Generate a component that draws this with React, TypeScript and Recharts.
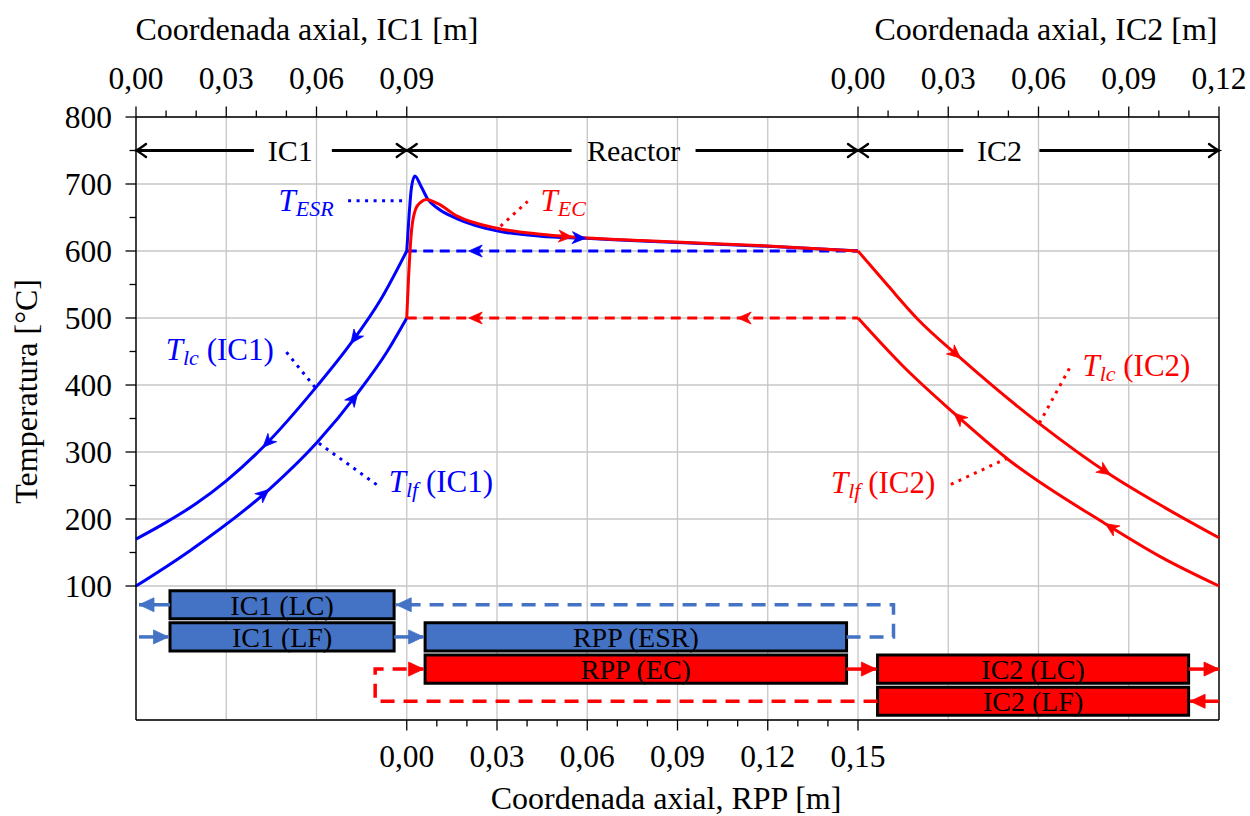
import React from "react";
import {
  ComposedChart,
  Line,
  XAxis,
  YAxis,
  CartesianGrid,
  ReferenceArea,
  ReferenceDot,
  ReferenceLine,
} from "recharts";

// ---- layout ----
const W = 1250;
const H = 816;
const MARGIN = { top: 17, right: 31, bottom: 16, left: 16 };
const Y_AXIS_W = 120;
const TOP_AXIS_H = 100;
const BOTTOM_AXIS_H = 80;
const X_MIN = -0.09;
const X_MAX = 0.27;
const Y_MIN = -100;
const Y_MAX = 800;
const PLOT_W = W - MARGIN.left - MARGIN.right - Y_AXIS_W;
const PLOT_H = H - MARGIN.top - MARGIN.bottom - TOP_AXIS_H - BOTTOM_AXIS_H;
// px per data unit, used only to orient arrowheads along a series
const SX = PLOT_W / (X_MAX - X_MIN);
const SY = PLOT_H / (Y_MAX - Y_MIN);

const FONT = "'Liberation Serif', 'Times New Roman', serif";
const BLUE = "#0000ff";
const RED = "#ff0000";
const BOX_BLUE = "#4472c4";
const GRID = "#c6c6c6";

// ---- ticks ----
const rppMajorTicks = [0, 0.03, 0.06, 0.09, 0.12, 0.15];
const rppTickLabels = ["0,00", "0,03", "0,06", "0,09", "0,12", "0,15"];
const rppMinorTicks = [0.01, 0.02, 0.04, 0.05, 0.07, 0.08, 0.1, 0.11, 0.13, 0.14];

const ic1MajorTicks = [-0.09, -0.06, -0.03, 0];
const ic1TickLabels = ["0,00", "0,03", "0,06", "0,09"];
const ic1MinorTicks = [-0.08, -0.07, -0.05, -0.04, -0.02, -0.01];

const ic2MajorTicks = [0.15, 0.18, 0.21, 0.24, 0.27];
const ic2TickLabels = ["0,00", "0,03", "0,06", "0,09", "0,12"];
const ic2MinorTicks = [0.16, 0.17, 0.19, 0.2, 0.22, 0.23, 0.25, 0.26];

const tempMajorTicks = [100, 200, 300, 400, 500, 600, 700, 800];
const tempTickLabels = ["100", "200", "300", "400", "500", "600", "700", "800"];
const tempMinorTicks = [150, 250, 350, 450, 550, 650, 750];

const gridX = [-0.06, -0.03, 0, 0.03, 0.06, 0.09, 0.12, 0.15, 0.18, 0.21, 0.24];
const gridY = [100, 200, 300, 400, 500, 600, 700];

// ---- temperature profiles (x in m of the RPP frame, y in °C) ----
// a: flow arrow on that point, +1 toward the next point, -1 toward the previous one
type Pt = { x: number; y: number; a?: number };

const tlcIc1: Pt[] = [
  { x: -0.09, y: 170 },
  { x: -0.08, y: 195 },
  { x: -0.07, y: 223 },
  { x: -0.06, y: 257 },
  { x: -0.0478, y: 307, a: -1 },
  { x: -0.0297, y: 399 },
  { x: -0.0186, y: 462, a: -1 },
  { x: -0.0086, y: 528 },
  { x: 0, y: 600 },
];
const tlfIc1: Pt[] = [
  { x: -0.09, y: 100 },
  { x: -0.0723, y: 152 },
  { x: -0.0458, y: 244, a: 1 },
  { x: -0.0297, y: 315 },
  { x: -0.0163, y: 388, a: 1 },
  { x: -0.0065, y: 450 },
  { x: 0, y: 500 },
];
const tEsr: Pt[] = [
  { x: 0, y: 600 },
  { x: 0.0008, y: 655 },
  { x: 0.0016, y: 696 },
  { x: 0.0027, y: 712 },
  { x: 0.0047, y: 697 },
  { x: 0.0069, y: 678 },
  { x: 0.0105, y: 663 },
  { x: 0.0168, y: 648 },
  { x: 0.03, y: 630 },
  { x: 0.0445, y: 622 },
  { x: 0.0595, y: 619, a: 1 },
  { x: 0.078, y: 615 },
  { x: 0.12, y: 607 },
  { x: 0.15, y: 600 },
];
const tEc: Pt[] = [
  { x: 0, y: 500 },
  { x: 0.0006, y: 560 },
  { x: 0.0011, y: 601 },
  { x: 0.0016, y: 631 },
  { x: 0.003, y: 663 },
  { x: 0.0047, y: 673 },
  { x: 0.0065, y: 677 },
  { x: 0.0102, y: 671 },
  { x: 0.0168, y: 652 },
  { x: 0.03, y: 634 },
  { x: 0.0445, y: 625 },
  { x: 0.055, y: 621, a: 1 },
  { x: 0.078, y: 615.5 },
  { x: 0.12, y: 607.5 },
  { x: 0.15, y: 600 },
];
const esrReturn: Pt[] = [
  { x: 0, y: 600 },
  { x: 0.0206, y: 600, a: -1 },
  { x: 0.15, y: 600 },
];
const ecReturn: Pt[] = [
  { x: 0, y: 500 },
  { x: 0.0206, y: 500, a: -1 },
  { x: 0.11, y: 500, a: -1 },
  { x: 0.15, y: 500 },
];
const tlcIc2: Pt[] = [
  { x: 0.15, y: 600 },
  { x: 0.16, y: 548 },
  { x: 0.1697, y: 499 },
  { x: 0.1841, y: 440, a: 1 },
  { x: 0.2104, y: 342 },
  { x: 0.2339, y: 266, a: 1 },
  { x: 0.252, y: 217 },
  { x: 0.27, y: 172 },
];
const tlfIc2: Pt[] = [
  { x: 0.15, y: 500 },
  { x: 0.165, y: 428 },
  { x: 0.1819, y: 358, a: -1 },
  { x: 0.1996, y: 290 },
  { x: 0.2322, y: 193, a: -1 },
  { x: 0.25, y: 145 },
  { x: 0.27, y: 100 },
];

// ---- dotted leaders from curve labels ----
const leaders: { id: string; pts: Pt[]; loop: "c" | "h" }[] = [
  { id: "esr", loop: "c", pts: [{ x: -0.0195, y: 675 }, { x: -0.0003, y: 675 }] },
  { id: "ec", loop: "h", pts: [{ x: 0.0312, y: 637 }, { x: 0.0402, y: 674 }] },
  { id: "lc1", loop: "c", pts: [{ x: -0.04, y: 449 }, { x: -0.0306, y: 397 }] },
  { id: "lf1", loop: "c", pts: [{ x: -0.0292, y: 313 }, { x: -0.0096, y: 250 }] },
  { id: "lc2", loop: "h", pts: [{ x: 0.2103, y: 343 }, { x: 0.2203, y: 425 }] },
  { id: "lf2", loop: "h", pts: [{ x: 0.1997, y: 291 }, { x: 0.1801, y: 250 }] },
];

const curveLabels: {
  id: string;
  x: number;
  y: number;
  sub: string;
  tail: string;
  loop: "c" | "h";
  anchor: "start" | "end";
}[] = [
  { id: "esr", x: -0.0243, y: 675, sub: "ESR", tail: "", loop: "c", anchor: "end" },
  { id: "ec", x: 0.0445, y: 675, sub: "EC", tail: "", loop: "h", anchor: "start" },
  { id: "lc1", x: -0.0442, y: 452, sub: "lc", tail: "(IC1)", loop: "c", anchor: "end" },
  { id: "lf1", x: -0.006, y: 255, sub: "lf", tail: "(IC1)", loop: "c", anchor: "start" },
  { id: "lc2", x: 0.2246, y: 428, sub: "lc", tail: "(IC2)", loop: "h", anchor: "start" },
  { id: "lf2", x: 0.1757, y: 253, sub: "lf", tail: "(IC2)", loop: "h", anchor: "end" },
];

// ---- section span arrows ----
const sectionLevel = 750;
const sections = [
  { name: "IC1", center: -0.0387, from: -0.09, to: 0, gapL: -0.0508, gapR: -0.0249 },
  { name: "Reactor", center: 0.0754, from: 0, to: 0.15, gapL: 0.0548, gapR: 0.096 },
  { name: "IC2", center: 0.197, from: 0.15, to: 0.27, gapL: 0.185, gapR: 0.2103 },
];

// ---- loop block diagram ----
const boxes: { name: string; x1: number; x2: number; y1: number; y2: number; loop: "c" | "h" }[] = [
  { name: "IC1 (LC)", x1: -0.0787, x2: -0.0042, y1: 51, y2: 93, loop: "c" },
  { name: "IC1 (LF)", x1: -0.0787, x2: -0.0042, y1: 3, y2: 45, loop: "c" },
  { name: "RPP (ESR)", x1: 0.0061, x2: 0.1462, y1: 3, y2: 45, loop: "c" },
  { name: "RPP (EC)", x1: 0.0061, x2: 0.1462, y1: -45, y2: -3, loop: "h" },
  { name: "IC2 (LC)", x1: 0.1565, x2: 0.2599, y1: -45, y2: -3, loop: "h" },
  { name: "IC2 (LF)", x1: 0.1565, x2: 0.2599, y1: -93, y2: -51, loop: "h" },
];
const flows: { id: string; pts: Pt[]; loop: "c" | "h"; dashed: boolean }[] = [
  { id: "c-out", loop: "c", dashed: false, pts: [{ x: -0.0787, y: 72 }, { x: -0.089, y: 72, a: 1 }] },
  { id: "c-in", loop: "c", dashed: false, pts: [{ x: -0.089, y: 24 }, { x: -0.0792, y: 24, a: 1 }] },
  { id: "c-rpp", loop: "c", dashed: false, pts: [{ x: -0.0042, y: 24 }, { x: 0.0056, y: 24, a: 1 }] },
  {
    id: "c-ret",
    loop: "c",
    dashed: true,
    pts: [{ x: 0.1462, y: 24 }, { x: 0.1618, y: 24 }, { x: 0.1618, y: 72 }, { x: -0.0035, y: 72, a: 1 }],
  },
  {
    id: "h-ret",
    loop: "h",
    dashed: true,
    pts: [{ x: 0.1565, y: -72 }, { x: -0.0105, y: -72 }, { x: -0.0105, y: -24 }, { x: 0.0056, y: -24, a: 1 }],
  },
  { id: "h-ic2", loop: "h", dashed: false, pts: [{ x: 0.1462, y: -24 }, { x: 0.1561, y: -24, a: 1 }] },
  { id: "h-out", loop: "h", dashed: false, pts: [{ x: 0.2599, y: -24 }, { x: 0.27, y: -24, a: 1 }] },
  { id: "h-in", loop: "h", dashed: false, pts: [{ x: 0.27, y: -72 }, { x: 0.2604, y: -72, a: 1 }] },
];

type ArrowKind = "stealth" | "tri" | "to";

function head(kind: ArrowKind, x: number, y: number, ux: number, uy: number, color: string) {
  const nx = -uy;
  const ny = ux;
  if (kind === "to") {
    const p = (b: number, s: number) => `${x - b * ux + s * nx},${y - b * uy + s * ny}`;
    return (
      <path
        d={`M${p(10, 6.5)} Q${p(3, 1.2)} ${x},${y} Q${p(3, -1.2)} ${p(10, -6.5)}`}
        fill="none"
        stroke={color}
        strokeWidth={2.4}
        strokeLinecap="round"
      />
    );
  }
  const L = kind === "tri" ? 15 : 13.5;
  const hw = kind === "tri" ? 7 : 6;
  const notch = kind === "tri" ? 0 : 4;
  const bx = x - L * ux;
  const by = y - L * uy;
  const d =
    `M${x},${y} L${bx + hw * nx},${by + hw * ny} ` +
    `L${x - (L - notch) * ux},${y - (L - notch) * uy} ` +
    `L${bx - hw * nx},${by - hw * ny} Z`;
  return <path d={d} fill={color} stroke={color} strokeWidth={0.8} strokeLinejoin="round" />;
}

// dot renderer that draws an arrowhead on flagged points, oriented along the series
function arrowDot(pts: Pt[], kind: ArrowKind, color: string) {
  return (props: any) => {
    const { cx, cy, index } = props;
    const p = pts[index];
    if (!p || !p.a || typeof cx !== "number" || typeof cy !== "number") {
      return <g key={`n${index}`} />;
    }
    const prev = pts[index - 1] ?? p;
    const next = pts[index + 1] ?? p;
    let dx = (next.x - prev.x) * SX * p.a;
    let dy = -(next.y - prev.y) * SY * p.a;
    if (index === 0) {
      dx = -dx;
      dy = -dy;
    }
    const len = Math.hypot(dx, dy) || 1;
    return <g key={`a${index}`}>{head(kind, cx, cy, dx / len, dy / len, color)}</g>;
  };
}

function axisTick(majors: number[], labels: string[], side: "top" | "bottom" | "left") {
  return (props: any) => {
    const { x, y, payload } = props;
    const v = payload.value as number;
    const i = majors.findIndex((m) => Math.abs(m - v) < 1e-9);
    const len = i >= 0 ? 10.5 : 6.5;
    const txt = { fontFamily: FONT, fontSize: 31.5, fill: "#000" };
    if (side === "left") {
      return (
        <g>
          <line x1={x} y1={y} x2={x - len} y2={y} stroke="#000" strokeWidth={1.3} />
          {i >= 0 && (
            <text x={x - 24} y={y} textAnchor="end" dominantBaseline="central" {...txt}>
              {labels[i]}
            </text>
          )}
        </g>
      );
    }
    const s = side === "top" ? -1 : 1;
    return (
      <g>
        <line x1={x} y1={y} x2={x} y2={y + s * len} stroke="#000" strokeWidth={1.3} />
        {i >= 0 && (
          <text x={x} y={side === "top" ? y - 28 : y + 47} textAnchor="middle" {...txt}>
            {labels[i]}
          </text>
        )}
      </g>
    );
  };
}

const loopColor = (loop: "c" | "h") => (loop === "c" ? BLUE : RED);
const boxColor = (loop: "c" | "h") => (loop === "c" ? BOX_BLUE : RED);

const topTicks = [...ic1MajorTicks, ...ic1MinorTicks, ...ic2MajorTicks, ...ic2MinorTicks].sort((a, b) => a - b);
const bottomTicks = [...rppMajorTicks, ...rppMinorTicks].sort((a, b) => a - b);
const leftTicks = [...tempMajorTicks, ...tempMinorTicks].sort((a, b) => a - b);

const titleStyle = { fontFamily: FONT, fontSize: 32, fill: "#000" };

export default function App() {
  const plotTop = MARGIN.top + TOP_AXIS_H;
  const profiles: { id: string; pts: Pt[]; color: string; dashed?: boolean }[] = [
    { id: "tlfIc1", pts: tlfIc1, color: BLUE },
    { id: "tlcIc1", pts: tlcIc1, color: BLUE },
    { id: "tEsr", pts: tEsr, color: BLUE },
    { id: "esrReturn", pts: esrReturn, color: BLUE, dashed: true },
    { id: "ecReturn", pts: ecReturn, color: RED, dashed: true },
    { id: "tEc", pts: tEc, color: RED },
    { id: "tlcIc2", pts: tlcIc2, color: RED },
    { id: "tlfIc2", pts: tlfIc2, color: RED },
  ];

  return (
    <div style={{ position: "absolute", left: 0, top: 0, width: W, height: H, background: "#fff" }}>
      <ComposedChart width={W} height={H} margin={MARGIN}>
        <XAxis
          xAxisId="b"
          type="number"
          dataKey="x"
          domain={[X_MIN, X_MAX]}
          ticks={bottomTicks}
          interval={0}
          height={BOTTOM_AXIS_H}
          tickSize={0}
          tickMargin={0}
          tick={axisTick(rppMajorTicks, rppTickLabels, "bottom")}
          axisLine={{ stroke: "#000", strokeWidth: 1.4 }}
          tickLine={false}
          label={{
            content: () => (
              <text x={666} y={H - 7} textAnchor="middle" {...titleStyle}>
                Coordenada axial, RPP [m]
              </text>
            ),
          }}
        />
        <XAxis
          xAxisId="t"
          orientation="top"
          type="number"
          dataKey="x"
          domain={[X_MIN, X_MAX]}
          allowDataOverflow
          ticks={topTicks}
          interval={0}
          height={TOP_AXIS_H}
          tickSize={0}
          tickMargin={0}
          tick={axisTick([...ic1MajorTicks, ...ic2MajorTicks], [...ic1TickLabels, ...ic2TickLabels], "top")}
          axisLine={{ stroke: "#000", strokeWidth: 1.4 }}
          tickLine={false}
          label={{
            content: () => (
              <g>
                <text x={307} y={MARGIN.top + 22.5} textAnchor="middle" {...titleStyle}>
                  Coordenada axial, IC1 [m]
                </text>
                <text x={1046} y={MARGIN.top + 22.5} textAnchor="middle" {...titleStyle}>
                  Coordenada axial, IC2 [m]
                </text>
              </g>
            ),
          }}
        />
        <YAxis
          yAxisId="l"
          type="number"
          domain={[Y_MIN, Y_MAX]}
          ticks={leftTicks}
          interval={0}
          width={Y_AXIS_W}
          tickSize={0}
          tickMargin={0}
          tick={axisTick(tempMajorTicks, tempTickLabels, "left")}
          axisLine={{ stroke: "#000", strokeWidth: 1.4 }}
          tickLine={false}
          label={{
            content: () => {
              const cy = plotTop + PLOT_H * 0.455;
              return (
                <text x={37} y={cy} transform={`rotate(-90 37 ${cy})`} textAnchor="middle" {...titleStyle}>
                  Temperatura [°C]
                </text>
              );
            },
          }}
        />
        <XAxis
          xAxisId="g"
          type="number"
          dataKey="x"
          domain={[X_MIN, X_MAX]}
          allowDataOverflow
          ticks={gridX}
          interval={0}
          height={0}
          hide
        />
        <YAxis
          yAxisId="g"
          type="number"
          domain={[Y_MIN, Y_MAX]}
          allowDataOverflow
          ticks={gridY}
          interval={0}
          width={0}
          hide
        />
        <CartesianGrid xAxisId="g" yAxisId="g" stroke={GRID} strokeWidth={1.3} />
        <ReferenceLine xAxisId="b" yAxisId="l" x={X_MAX} stroke="#000" strokeWidth={1.4} />

        {boxes.map((b) => (
          <ReferenceArea
            key={b.name}
            xAxisId="b"
            yAxisId="l"
            x1={b.x1}
            x2={b.x2}
            y1={b.y1}
            y2={b.y2}
            fill={boxColor(b.loop)}
            fillOpacity={1}
            stroke="#000"
            strokeWidth={3}
            label={{ value: b.name, position: "center", fill: "#000", fontSize: 28, fontFamily: FONT }}
          />
        ))}

        {flows.map((f) => (
          <Line
            key={f.id}
            xAxisId="b"
            yAxisId="l"
            data={f.pts}
            dataKey="y"
            type="linear"
            stroke={boxColor(f.loop)}
            strokeWidth={3.5}
            strokeDasharray={f.dashed ? "14 9" : undefined}
            dot={arrowDot(f.pts, "tri", boxColor(f.loop))}
            activeDot={false}
            isAnimationActive={false}
            legendType="none"
          />
        ))}

        {leaders.map((l) => (
          <Line
            key={l.id}
            xAxisId="b"
            yAxisId="l"
            data={l.pts}
            dataKey="y"
            type="linear"
            stroke={loopColor(l.loop)}
            strokeWidth={3}
            strokeDasharray="3 5.5"
            dot={false}
            activeDot={false}
            isAnimationActive={false}
            legendType="none"
          />
        ))}

        {profiles.map((p) => (
          <Line
            key={p.id}
            xAxisId="b"
            yAxisId="l"
            data={p.pts}
            dataKey="y"
            type={p.dashed ? "linear" : "monotone"}
            stroke={p.color}
            strokeWidth={3}
            strokeDasharray={p.dashed ? "10 6.5" : undefined}
            dot={arrowDot(p.pts, "stealth", p.color)}
            activeDot={false}
            isAnimationActive={false}
            legendType="none"
          />
        ))}

        {sections.flatMap((s) => {
          const left: Pt[] = [{ x: s.gapL, y: sectionLevel }, { x: s.from, y: sectionLevel, a: 1 }];
          const right: Pt[] = [{ x: s.gapR, y: sectionLevel }, { x: s.to, y: sectionLevel, a: 1 }];
          return [left, right].map((pts, k) => (
            <Line
              key={`${s.name}-${k}`}
              xAxisId="b"
              yAxisId="l"
              data={pts}
              dataKey="y"
              type="linear"
              stroke="#000"
              strokeWidth={3}
              dot={arrowDot(pts, "to", "#000")}
              activeDot={false}
              isAnimationActive={false}
              legendType="none"
            />
          ));
        })}

        {sections.map((s) => (
          <ReferenceDot
            key={`lbl-${s.name}`}
            xAxisId="b"
            yAxisId="l"
            x={s.center}
            y={sectionLevel}
            r={0}
            shape={(p: any) => (
              <text
                x={p.cx}
                y={p.cy}
                textAnchor="middle"
                dominantBaseline="central"
                fontFamily={FONT}
                fontSize={30}
                fill="#000"
              >
                {s.name}
              </text>
            )}
          />
        ))}

        {curveLabels.map((c) => (
          <ReferenceDot
            key={`cl-${c.id}`}
            xAxisId="b"
            yAxisId="l"
            x={c.x}
            y={c.y}
            r={0}
            shape={(p: any) => (
              <text
                x={p.cx}
                y={p.cy + 10}
                textAnchor={c.anchor}
                fontFamily={FONT}
                fontSize={31}
                fill={loopColor(c.loop)}
              >
                <tspan fontStyle="italic">T</tspan>
                <tspan fontStyle="italic" fontSize={22} dy={5}>
                  {c.sub}
                </tspan>
                {c.tail && <tspan dy={-5}>{"\u00a0" + c.tail}</tspan>}
              </text>
            )}
          />
        ))}
      </ComposedChart>
    </div>
  );
}
